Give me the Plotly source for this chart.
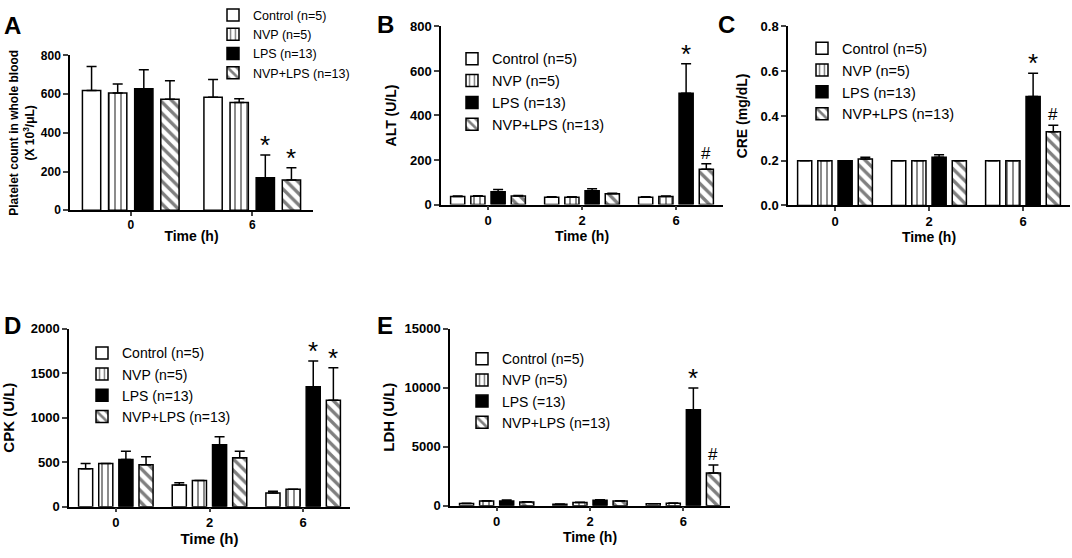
import plotly.graph_objects as go

W, H = 1072, 558
FONT = "Arial, Liberation Sans, sans-serif"

# ---- data ----
times_a = ["0", "6"]
times = ["0", "2", "6"]
names = ["Control (n=5)", "NVP (n=5)", "LPS (n=13)", "NVP+LPS (n=13)"]
names_e = ["Control (n=5)", "NVP (n=5)", "LPS (=13)", "NVP+LPS (n=13)"]

# A: platelet count (x 10^3/uL)
plt_ctrl = [619, 583]
plt_ctrl_err = [123, 92]
plt_nvp = [606, 556]
plt_nvp_err = [46, 20]
plt_lps = [627, 168]
plt_lps_err = [98, 117]
plt_nvplps = [573, 156]
plt_nvplps_err = [96, 63]

# B: ALT (U/L)
alt_ctrl = [36, 33, 33]
alt_ctrl_err = [2, 2, 2]
alt_nvp = [37, 33, 36]
alt_nvp_err = [2, 2, 2]
alt_lps = [57, 62, 500]
alt_lps_err = [10, 9, 133]
alt_nvplps = [38, 48, 158]
alt_nvplps_err = [2, 3, 25]

# C: CRE (mg/dL)
cre_ctrl = [0.2, 0.2, 0.2]
cre_ctrl_err = [0, 0, 0]
cre_nvp = [0.2, 0.2, 0.2]
cre_nvp_err = [0, 0, 0]
cre_lps = [0.2, 0.216, 0.487]
cre_lps_err = [0, 0.011, 0.104]
cre_nvplps = [0.208, 0.2, 0.33]
cre_nvplps_err = [0.007, 0, 0.028]

# D: CPK (U/L)
cpk_ctrl = [425, 245, 155]
cpk_ctrl_err = [61, 25, 18]
cpk_nvp = [486, 295, 195]
cpk_nvp_err = [0, 0, 0]
cpk_lps = [530, 695, 1348]
cpk_lps_err = [93, 91, 288]
cpk_nvplps = [472, 551, 1196]
cpk_nvplps_err = [90, 72, 364]

# E: LDH (U/L)
ldh_ctrl = [190, 136, 163]
ldh_ctrl_err = [20, 15, 15]
ldh_nvp = [408, 272, 217]
ldh_nvp_err = [15, 15, 15]
ldh_lps = [408, 462, 8125]
ldh_lps_err = [80, 54, 1848]
ldh_nvplps = [326, 408, 2772]
ldh_nvplps_err = [20, 20, 680]

BARGAP = 0.14
SLOT = (1 - BARGAP) / 4

# bar looks: fill, pattern shape, pattern size, solidity
looks = [
    ("white", "", 6, 0.3),
    ("white", "|", 6, 0.3),
    ("black", "", 6, 0.3),
    ("white", "\\", 8, 0.42),
]


def xdom(a, b):
    return [a / W, b / W]


def ydom(top, bottom):
    return [1 - bottom / H, 1 - top / H]


panels = [
    dict(letter="A", letter_xy=(12, 13), cats=times_a,
         means=[plt_ctrl, plt_nvp, plt_lps, plt_nvplps],
         errs=[plt_ctrl_err, plt_nvp_err, plt_lps_err, plt_nvplps_err],
         names=names, xd=(70, 313), yd=(44, 205), yr=800, dtick=200, fmt="d",
         ytitle="Platelet count in whole blood<br>(X 10<sup>3</sup>/μL)", ytsize=12, tsize=12,
         standoff=4, lsize=12.5, leg=(213, -13), xstand=0,
         marks=[(1, 2, "*"), (1, 3, "*")]),
    dict(letter="B", letter_xy=(385, 12), cats=times,
         means=[alt_ctrl, alt_nvp, alt_lps, alt_nvplps],
         errs=[alt_ctrl_err, alt_nvp_err, alt_lps_err, alt_nvplps_err],
         names=names, xd=(441, 723), yd=(14, 199), yr=800, dtick=200, fmt="d",
         ytitle="ALT (U/L)", ytsize=14, tsize=13, standoff=10, lsize=14.5, leg=(452, 31),
         xstand=0, marks=[(2, 2, "*"), (2, 3, "#")]),
    dict(letter="C", letter_xy=(727, 12), cats=times,
         means=[cre_ctrl, cre_nvp, cre_lps, cre_nvplps],
         errs=[cre_ctrl_err, cre_nvp_err, cre_lps_err, cre_nvplps_err],
         names=names, xd=(788, 1070), yd=(14, 200), yr=0.8, dtick=0.2, fmt=".1f",
         ytitle="CRE (mg/dL)", ytsize=14, tsize=13, standoff=10, lsize=14.5, leg=(802, 20),
         xstand=0, marks=[(2, 2, "*"), (2, 3, "#")]),
    dict(letter="D", letter_xy=(12, 325), cats=times,
         means=[cpk_ctrl, cpk_nvp, cpk_lps, cpk_nvplps],
         errs=[cpk_ctrl_err, cpk_nvp_err, cpk_lps_err, cpk_nvplps_err],
         names=names, xd=(69, 350), yd=(328, 513), yr=2000, dtick=500, fmt="d",
         ytitle="CPK (U/L)", ytsize=15, tsize=13, standoff=12, lsize=14, leg=(82, 337),
         xstand=2, marks=[(2, 2, "*"), (2, 3, "*")]),
    dict(letter="E", letter_xy=(385, 325), cats=times,
         means=[ldh_ctrl, ldh_nvp, ldh_lps, ldh_nvplps],
         errs=[ldh_ctrl_err, ldh_nvp_err, ldh_lps_err, ldh_nvplps_err],
         names=names_e, xd=(450, 730), yd=(328, 512), yr=15000, dtick=5000, fmt="d",
         ytitle="LDH (U/L)", ytsize=15, tsize=13, standoff=6, lsize=14, leg=(462, 343),
         xstand=2, marks=[(2, 2, "*"), (2, 3, "#")]),
]

fig = go.Figure()
layout = dict(
    width=W, height=H, margin=dict(l=0, r=0, t=0, b=0),
    paper_bgcolor="white", plot_bgcolor="white",
    barmode="group", bargap=BARGAP, bargroupgap=0.3,
    font=dict(family=FONT, color="black"),
)
annotations = []

for k, p in enumerate(panels):
    n = k + 1
    sfx = "" if n == 1 else str(n)
    xa, ya = "x" + sfx, "y" + sfx
    legname = "legend" + sfx
    xpos = list(range(len(p["cats"])))
    for s in range(4):
        fill, shape, psize, solid = looks[s]
        fig.add_trace(go.Bar(
            x=xpos, y=p["means"][s], name=p["names"][s],
            xaxis=xa, yaxis=ya, legend=legname,
            marker=dict(color=fill, line=dict(color="black", width=1.5),
                        pattern=dict(shape=shape, fgcolor="black", bgcolor=fill,
                                     size=psize, solidity=solid)),
            error_y=dict(type="data", symmetric=False, array=p["errs"][s],
                         arrayminus=[0] * len(xpos), color="black",
                         thickness=1.5, width=5),
        ))

    bold_tick = dict(size=p["tsize"], family=FONT, weight="bold", color="black")
    layout["xaxis" + sfx] = dict(
        domain=xdom(*p["xd"]), anchor=ya, range=[-0.5, len(xpos) - 0.5],
        tickvals=xpos, ticktext=p["cats"], showline=True, linecolor="black",
        linewidth=1.5, ticks="outside", ticklen=4, tickwidth=1.5, showgrid=False,
        zeroline=False, tickfont=bold_tick, ticklabelstandoff=-1,
        title=dict(text="Time (h)",
                   font=dict(size=14 if n != 4 else 15, weight="bold", family=FONT),
                   standoff=p["xstand"]),
    )
    layout["yaxis" + sfx] = dict(
        domain=ydom(*p["yd"]), anchor=xa, range=[0, p["yr"]], dtick=p["dtick"],
        tickformat=p["fmt"], showline=True, linecolor="black", linewidth=1.5,
        ticks="outside", ticklen=5, tickwidth=1.5, showgrid=False, zeroline=False,
        tickfont=bold_tick,
        title=dict(text=p["ytitle"],
                   font=dict(size=p["ytsize"], weight="bold", family=FONT),
                   standoff=p["standoff"]),
    )
    layout[legname] = dict(
        x=p["leg"][0] / W, y=1 - p["leg"][1] / H, xanchor="left", yanchor="top",
        bgcolor="rgba(0,0,0,0)", font=dict(size=p["lsize"], family=FONT),
        traceorder="normal", itemclick=False, itemdoubleclick=False,
    )

    for g, s, sym in p["marks"]:
        top = p["means"][s][g] + p["errs"][s][g]
        annotations.append(dict(
            x=g + (s - 1.5) * SLOT, y=top, xref=xa, yref=ya, text=sym,
            showarrow=False, yanchor="bottom",
            font=dict(size=26 if sym == "*" else 17, family=FONT),
            yshift=-7 if sym == "*" else -1,
        ))

    lx, ly = p["letter_xy"]
    annotations.append(dict(
        x=lx / W, y=1 - ly / H, xref="paper", yref="paper", text=p["letter"],
        showarrow=False, xanchor="center", yanchor="middle",
        font=dict(size=24, family=FONT, weight="bold"),
    ))

layout["annotations"] = annotations
fig.update_layout(**layout)
# page has a default 8px body margin; drop it so the figure fills the window
fig.write_html("out.html", config={"displayModeBar": False},
               post_script="document.body.style.margin='0';")
